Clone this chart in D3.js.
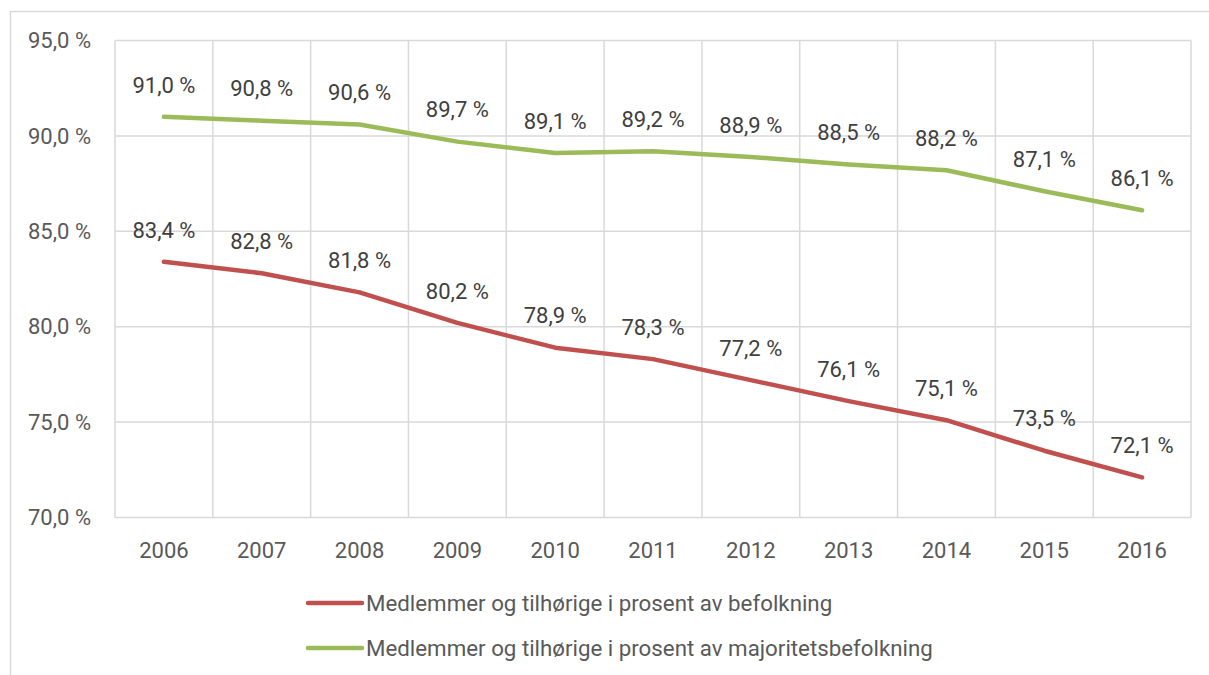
<!DOCTYPE html>
<html>
<head>
<meta charset="utf-8">
<script src="https://cdn.jsdelivr.net/npm/d3@7"></script>
<style>
  body { margin: 0; background: #fff; }
  svg { display: block; font-family: Roboto, "Open Sans", sans-serif; }
</style>
</head>
<body>
<div id="chart"></div>
<script>
// data
const years = ["2006", "2007", "2008", "2009", "2010", "2011", "2012", "2013", "2014", "2015", "2016"];
const befolkning = [83.4, 82.8, 81.8, 80.2, 78.9, 78.3, 77.2, 76.1, 75.1, 73.5, 72.1];
const majoritet = [91.0, 90.8, 90.6, 89.7, 89.1, 89.2, 88.9, 88.5, 88.2, 87.1, 86.1];
const yTicks = [70, 75, 80, 85, 90, 95];
const seriesNames = [
    "Medlemmer og tilhørige i prosent av befolkning",
    "Medlemmer og tilhørige i prosent av majoritetsbefolkning"
];
const seriesColors = ["#c0504d", "#9bbb59"];

const width = 1209, height = 675;
const plot = { left: 115, right: 1191, top: 40.5, bottom: 517.5 };

const fmt = v => v.toFixed(1).replace(".", ",") + " %";

const svg = d3.select("#chart").append("svg")
    .attr("width", width)
    .attr("height", height);

// ytre ramme
svg.append("rect")
    .attr("x", 10.5).attr("y", 11.5)
    .attr("width", 1220).attr("height", 700)
    .attr("fill", "none")
    .attr("stroke", "#d9d9d9")
    .attr("stroke-width", 1.5);

const x = d3.scaleBand().domain(years).range([plot.left, plot.right]);
const y = d3.scaleLinear().domain([70, 95]).range([plot.bottom, plot.top]);

// rutenett
svg.append("g")
    .selectAll("line")
    .data(yTicks)
    .enter().append("line")
    .attr("x1", plot.left).attr("x2", plot.right)
    .attr("y1", d => y(d)).attr("y2", d => y(d))
    .attr("stroke", "#d9d9d9")
    .attr("stroke-width", 1.5);

const bounds = years.map(d => x(d)).concat([plot.right]);
svg.append("g")
    .selectAll("line")
    .data(bounds)
    .enter().append("line")
    .attr("x1", d => d).attr("x2", d => d)
    .attr("y1", plot.top).attr("y2", plot.bottom)
    .attr("stroke", "#d9d9d9")
    .attr("stroke-width", 1.5);

// aksetekster
svg.append("g")
    .selectAll("text")
    .data(yTicks)
    .enter().append("text")
    .attr("x", 91)
    .attr("y", d => y(d))
    .attr("dy", "0.35em")
    .attr("text-anchor", "end")
    .attr("font-size", 22)
    .attr("fill", "#595959")
    .text(d => fmt(d));

svg.append("g")
    .selectAll("text")
    .data(years)
    .enter().append("text")
    .attr("x", d => x(d) + x.bandwidth() / 2)
    .attr("y", 550)
    .attr("dy", "0.35em")
    .attr("text-anchor", "middle")
    .attr("font-size", 22)
    .attr("fill", "#595959")
    .text(d => d);

// linjer
const line = d3.line()
    .x((d, i) => x(years[i]) + x.bandwidth() / 2)
    .y(d => y(d));

[befolkning, majoritet].forEach((values, s) => {
    svg.append("path")
        .datum(values)
        .attr("d", line)
        .attr("fill", "none")
        .attr("stroke", seriesColors[s])
        .attr("stroke-width", 4.5)
        .attr("stroke-linecap", "round")
        .attr("stroke-linejoin", "round");

    svg.append("g")
        .selectAll("text")
        .data(values)
        .enter().append("text")
        .attr("x", (d, i) => x(years[i]) + x.bandwidth() / 2)
        .attr("y", d => y(d) - 32)
        .attr("dy", "0.35em")
        .attr("text-anchor", "middle")
        .attr("font-size", 22)
        .attr("fill", "#404040")
        .text(d => fmt(d));
});

// forklaring
const legend = svg.append("g")
    .selectAll("g")
    .data(seriesNames)
    .enter().append("g")
    .attr("transform", (d, i) => `translate(307, ${603 + i * 45})`);

legend.append("line")
    .attr("x1", 1).attr("x2", 55)
    .attr("stroke", (d, i) => seriesColors[i])
    .attr("stroke-width", 4.5)
    .attr("stroke-linecap", "round");

legend.append("text")
    .attr("x", 59)
    .attr("dy", "0.35em")
    .attr("font-size", 22.3)
    .attr("fill", "#595959")
    .text(d => d);
</script>
</body>
</html>
